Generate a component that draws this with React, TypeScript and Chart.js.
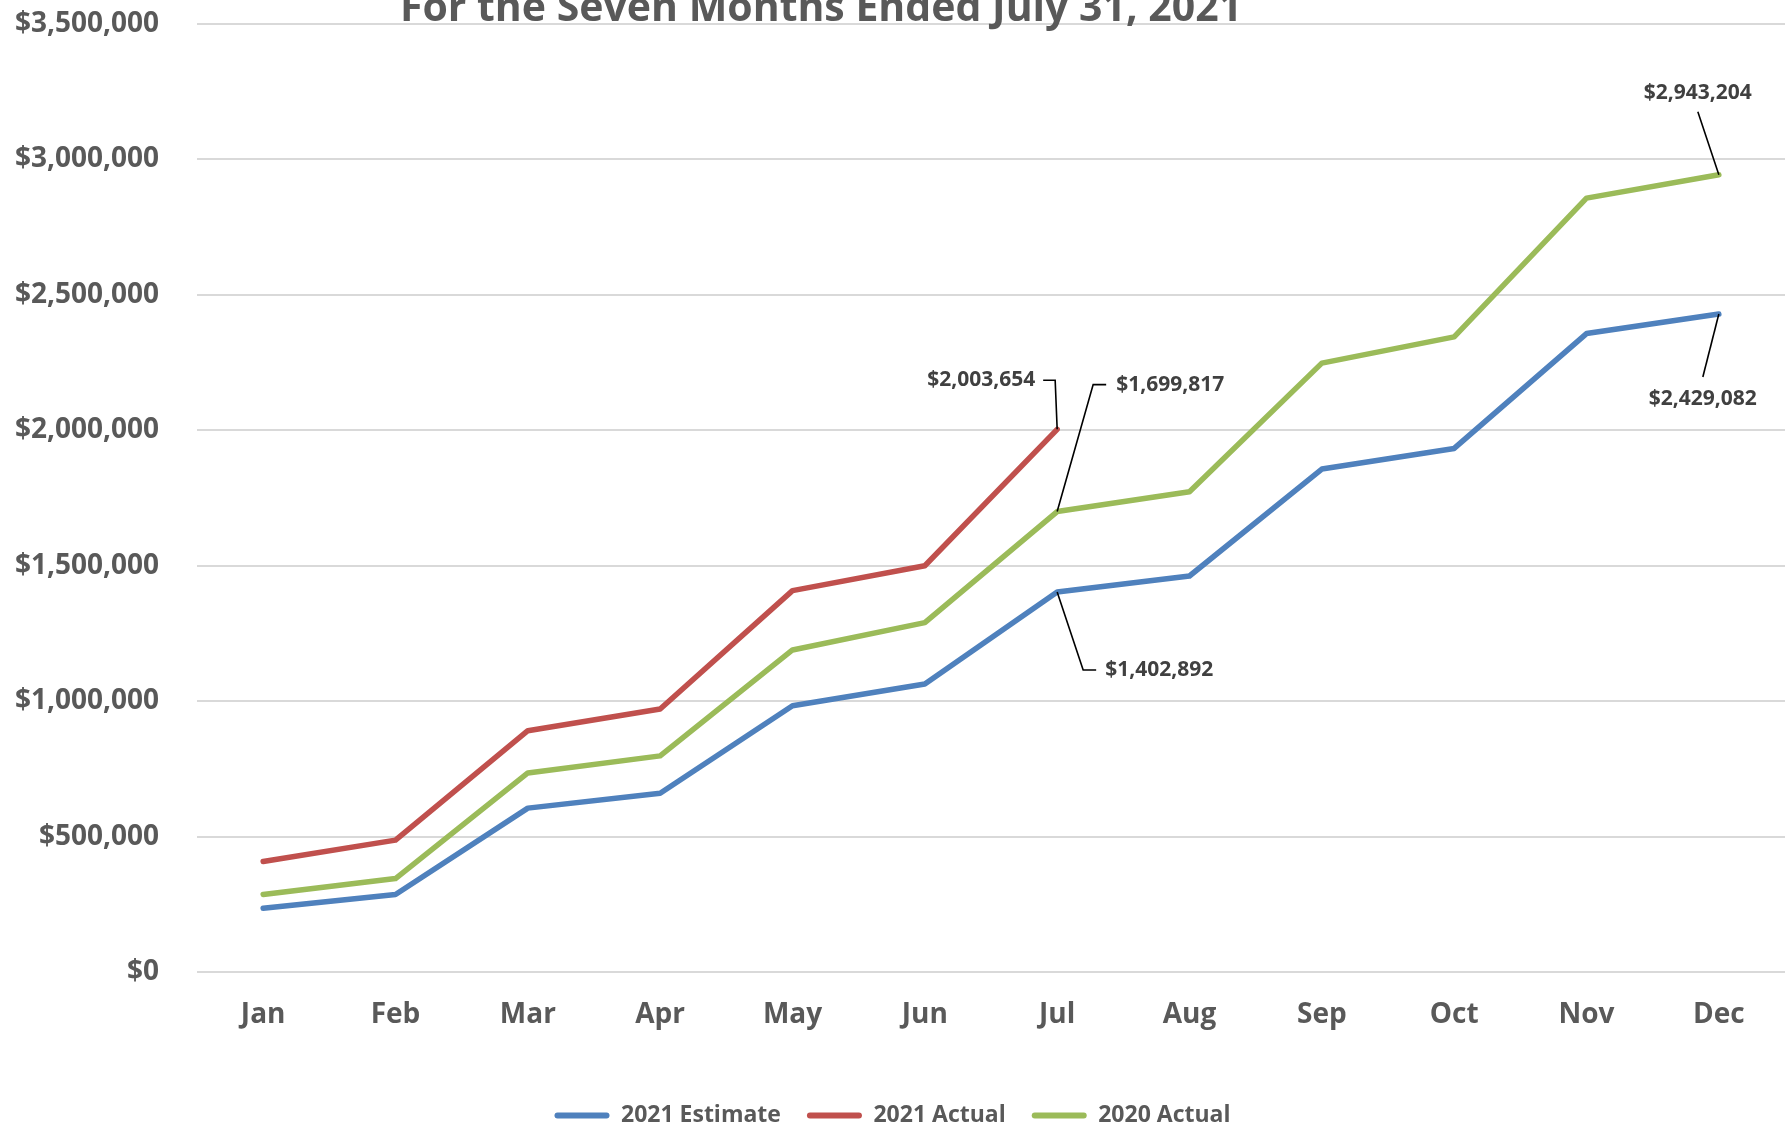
import { useEffect, useRef } from "react";
import { Chart, registerables } from "chart.js";

Chart.register(...registerables);

const months = ["Jan", "Feb", "Mar", "Apr", "May", "Jun", "Jul", "Aug", "Sep", "Oct", "Nov", "Dec"];
const estimate2021 = [235000, 286000, 605000, 660000, 983000, 1063000, 1402892, 1462000, 1857000, 1933000, 2357000, 2429082];
const actual2021 = [408000, 487000, 891000, 971000, 1408000, 1500000, 2003654];
const actual2020 = [286000, 345000, 735000, 798000, 1189000, 1290000, 1699817, 1773000, 2248000, 2345000, 2857000, 2943204];
const seriesNames = ["2021 Estimate", "2021 Actual", "2020 Actual"];
const yMin = 0;
const yMax = 3500000;
const yStep = 500000;
const titleText = "For the Seven Months Ended July 31, 2021";

const FONT = "'Open Sans', Lato, sans-serif";
const TEXT = "#595959";

const fmt = (v: number) => "$" + Math.round(v).toLocaleString("en-US");

// callout labels: dataset index, point index, leader path offsets and text anchor offsets (pixels)
const callouts = [
  { ds: 1, i: 6, path: [[-2, -49], [-14, -49]], tx: -22, ty: -49, align: "right" },
  { ds: 2, i: 6, path: [[36, -127], [49, -127]], tx: 59, ty: -127, align: "left" },
  { ds: 0, i: 6, path: [[26, 78], [39, 78]], tx: 48, ty: 78, align: "left" },
  { ds: 2, i: 11, path: [[-21, -63]], tx: -21, ty: -82, align: "center" },
  { ds: 0, i: 11, path: [[-16, 63]], tx: -16, ty: 85, align: "center" },
];

const decorPlugin = {
  id: "decor",
  afterDatasetsDraw(chart: any) {
    const ctx = chart.ctx;
    ctx.save();
    callouts.forEach((c) => {
      const meta = chart.getDatasetMeta(c.ds);
      const pt = meta.data[c.i];
      if (!pt) return;
      const px = pt.x;
      const py = pt.y;
      ctx.strokeStyle = "#000000";
      ctx.lineWidth = 1.6;
      ctx.beginPath();
      ctx.moveTo(px, py);
      c.path.forEach(([dx, dy]) => ctx.lineTo(px + dx, py + dy));
      ctx.stroke();
      const value = chart.data.datasets[c.ds].data[c.i];
      ctx.fillStyle = "#404040";
      ctx.font = `bold 21px ${FONT}`;
      ctx.textAlign = c.align;
      ctx.textBaseline = "middle";
      ctx.fillText(fmt(value), px + c.tx, py + c.ty);
    });
    ctx.fillStyle = TEXT;
    ctx.font = `bold 41px ${FONT}`;
    ctx.textAlign = "center";
    ctx.textBaseline = "alphabetic";
    ctx.fillText(titleText, 821, 21);
    ctx.restore();
  },
};

export default function App() {
  const ref = useRef<HTMLCanvasElement | null>(null);
  useEffect(() => {
    if (!ref.current) return;
    const colors = ["#4f81bd", "#c0504d", "#9bbb59"];
    const series = [estimate2021, actual2021, actual2020];
    const chart = new Chart(ref.current, {
      type: "line",
      data: {
        labels: months,
        datasets: series.map((d, k) => ({
          label: seriesNames[k],
          data: d,
          borderColor: colors[k],
          backgroundColor: colors[k],
          borderWidth: 5.5,
          pointRadius: 0,
          pointHoverRadius: 0,
          tension: 0,
          borderCapStyle: "round",
          borderJoinStyle: "round",
          fill: false,
        })),
      },
      options: {
        responsive: false,
        animation: false,
        devicePixelRatio: 1,
        layout: { padding: { top: 24, right: 0, left: 0, bottom: -9 } },
        plugins: {
          title: { display: false },
          tooltip: { enabled: false },
          legend: {
            display: true,
            position: "bottom",
            labels: {
              boxWidth: 55,
              boxHeight: 6,
              useBorderRadius: true,
              borderRadius: 3,
              padding: 26,
              color: TEXT,
              font: { family: FONT, size: 23, weight: "bold" },
              generateLabels: (c: any) =>
                Chart.defaults.plugins.legend.labels.generateLabels(c).map((l: any) => ({ ...l, lineWidth: 0 })),
            },
          },
        },
        scales: {
          x: {
            offset: true,
            grid: { display: false, drawTicks: false },
            border: { display: false },
            ticks: { color: TEXT, padding: 26, font: { family: FONT, size: 28, weight: "bold" } },
            afterFit: (s: any) => {
              s.height = 106;
            },
          },
          y: {
            min: yMin,
            max: yMax,
            grid: { color: "#d9d9d9", lineWidth: 2, drawTicks: false },
            border: { display: false },
            ticks: {
              stepSize: yStep,
              padding: 38,
              color: TEXT,
              font: { family: FONT, size: 28, weight: "bold" },
              callback: (v: any) => fmt(Number(v)),
            },
            afterFit: (s: any) => {
              s.width = 197;
              s.paddingTop = 0;
              s.paddingBottom = 0;
            },
          },
        },
      },
      plugins: [decorPlugin],
    } as any);
    return () => chart.destroy();
  }, []);
  return (
    <div style={{ position: "fixed", left: 0, top: 0, width: 1785, height: 1128, background: "#fff", overflow: "hidden" }}>
      <canvas ref={ref} width={1785} height={1128} style={{ display: "block" }} />
    </div>
  );
}
